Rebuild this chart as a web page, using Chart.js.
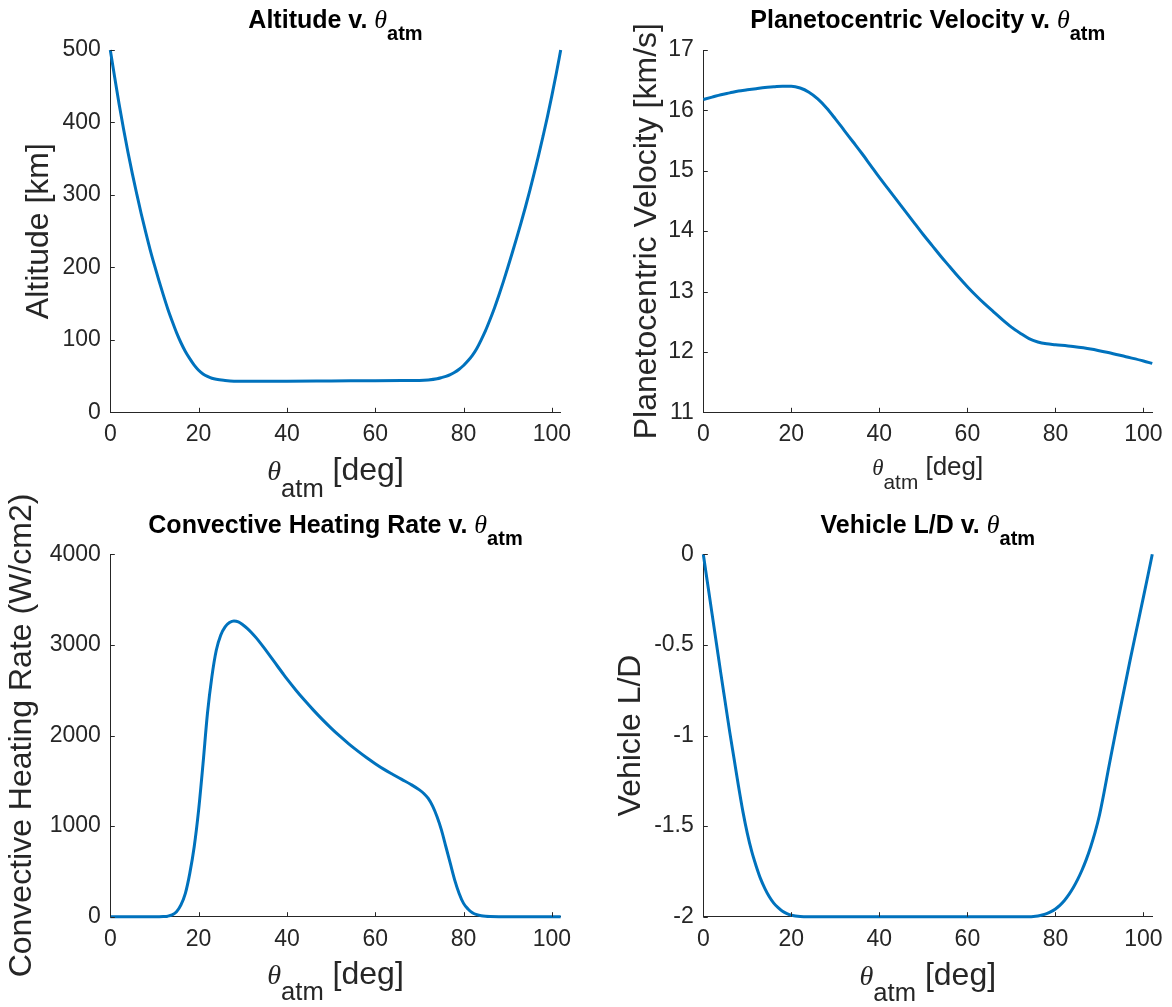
<!DOCTYPE html>
<html>
<head>
<meta charset="utf-8">
<script src="https://cdn.jsdelivr.net/npm/chart.js@4.4.1/dist/chart.umd.min.js"></script>
<style>
  body { margin: 0; background: #fff; width: 1172px; height: 1007px; overflow: hidden; position: relative; }
  canvas { position: absolute; }
</style>
</head>
<body>
<canvas id="alt-chart" width="586" height="504" style="left:0;top:0"></canvas>
<canvas id="vel-chart" width="586" height="504" style="left:586px;top:0"></canvas>
<canvas id="heat-chart" width="586" height="547" style="left:0;top:460px"></canvas>
<canvas id="ld-chart" width="586" height="547" style="left:586px;top:460px"></canvas>
<script>
// shared x axis (theta_atm, deg)
const thetaTicks = [0, 20, 40, 60, 80, 100];
const thetaMax = 102;

// altitude [km]
const altTheta = [0, 1, 2, 3, 4, 5, 6, 7, 8, 9, 10, 11, 12, 13, 14, 15, 16, 17, 18, 19, 20, 21, 22, 23, 24, 26, 28, 30, 40, 50, 60, 66, 70, 72, 74, 75, 76, 77, 78, 79, 80, 81, 82, 83, 84, 85, 86, 87, 88, 89, 90, 91, 92, 93, 94, 95, 96, 97, 98, 99, 100, 101, 102];
const altitude = [500, 462, 425, 391, 359, 329, 301, 274, 249, 225, 203, 182, 162, 143, 126, 110, 96, 84, 74, 65, 58, 53, 49.5, 47, 45.5, 44, 43, 42.8, 42.8, 43.2, 43.6, 43.8, 44, 44.7, 46.3, 47.8, 49.6, 52, 55.3, 59.5, 64.6, 71, 78.5, 88, 100, 113, 128, 144, 161.5, 180, 199.5, 219.5, 240, 261, 283, 306, 330, 355, 381, 408, 437, 467.5, 500];
const altTicks = [0, 100, 200, 300, 400, 500];

// planetocentric velocity [km/s]
const velTheta = [0, 2, 4, 6, 8, 10, 12, 14, 16, 18, 20, 22, 24, 26, 28, 30, 32, 34, 36, 38, 40, 42, 44, 46, 48, 50, 52, 54, 56, 58, 60, 62, 64, 66, 68, 70, 72, 74, 76, 78, 80, 84, 88, 92, 96, 100, 102];
const velocity = [16.18, 16.22, 16.26, 16.29, 16.32, 16.34, 16.36, 16.38, 16.39, 16.40, 16.40, 16.37, 16.30, 16.19, 16.04, 15.86, 15.67, 15.48, 15.29, 15.09, 14.89, 14.70, 14.51, 14.32, 14.13, 13.94, 13.76, 13.58, 13.41, 13.24, 13.08, 12.93, 12.79, 12.66, 12.53, 12.41, 12.31, 12.22, 12.165, 12.135, 12.12, 12.09, 12.05, 11.99, 11.92, 11.85, 11.81];
const velTicks = [11, 12, 13, 14, 15, 16, 17];

// convective heating rate (W/cm2)
const heatTheta = [0, 10, 12, 13, 14, 15, 16, 17, 18, 19, 20, 21, 22, 23, 24, 25, 26, 27, 28, 29, 30, 31, 32, 33, 34, 35, 36, 37, 38, 39, 40, 42, 44, 46, 48, 50, 52, 54, 56, 58, 60, 62, 64, 66, 68, 70, 71, 72, 73, 74, 75, 76, 77, 78, 79, 80, 81, 82, 83, 84, 85, 86, 88, 95, 102];
const heating = [0, 0, 2, 6, 20, 55, 130, 257, 478, 772, 1176, 1690, 2243, 2647, 2941, 3107, 3199, 3246, 3265, 3255, 3223, 3183, 3135, 3080, 3020, 2956, 2890, 2823, 2756, 2690, 2625, 2503, 2388, 2280, 2178, 2082, 1992, 1908, 1830, 1757, 1689, 1626, 1570, 1516, 1462, 1400, 1360, 1305, 1220, 1103, 956, 772, 588, 404, 257, 147, 85, 44, 22, 10, 4, 1.5, 0, 0, 0];
const heatTicks = [0, 1000, 2000, 3000, 4000];

// vehicle L/D
const ldTheta = [0, 1, 2, 3, 4, 5, 6, 7, 8, 9, 10, 11, 12, 13, 14, 15, 16, 17, 18, 19, 20, 22, 24, 50, 74, 75, 76, 77, 78, 79, 80, 81, 82, 83, 84, 85, 86, 87, 88, 89, 90, 91, 92, 93, 94, 95, 96, 97, 98, 99, 100, 101, 102];
const liftDrag = [0, -0.165, -0.33, -0.495, -0.66, -0.82, -0.98, -1.13, -1.28, -1.42, -1.54, -1.64, -1.72, -1.79, -1.845, -1.89, -1.925, -1.95, -1.97, -1.983, -1.992, -1.999, -2, -2, -2, -1.999, -1.996, -1.991, -1.983, -1.972, -1.957, -1.937, -1.912, -1.88, -1.842, -1.797, -1.745, -1.685, -1.615, -1.535, -1.44, -1.32, -1.19, -1.065, -0.94, -0.82, -0.7, -0.58, -0.465, -0.35, -0.235, -0.118, 0];
const ldTicks = [-2, -1.5, -1, -0.5, 0];

const ink = '#262626';
const SANS = '"Liberation Sans", Arial, Helvetica, sans-serif';
const SERIF = '"Liberation Serif", "Times New Roman", serif';
Chart.defaults.font.family = SANS;

// draw a run of text pieces (for the theta_atm subscripts), centred on cx
function drawRun(ctx, parts, cx, y) {
  let total = 0;
  parts.forEach(p => { ctx.font = p.font; p.w = ctx.measureText(p.text).width; total += p.w; });
  let x = cx - total / 2;
  ctx.textAlign = 'left';
  ctx.textBaseline = 'alphabetic';
  parts.forEach(p => {
    ctx.font = p.font;
    ctx.fillText(p.text, x, y + (p.dy || 0));
    x += p.w;
  });
}

const labelsPlugin = {
  id: 'labels',
  afterDraw(chart, args, opts) {
    const ctx = chart.ctx;
    const a = chart.chartArea;
    const cx = (a.left + a.right) / 2;
    const xs = chart.scales.x, ys = chart.scales.y;
    ctx.save();

    // matlab style ticks, pointing inwards
    ctx.strokeStyle = ink;
    ctx.lineWidth = 1;
    ctx.beginPath();
    xs.ticks.forEach(t => {
      const px = Math.round(xs.getPixelForValue(t.value)) + 0.5;
      ctx.moveTo(px, a.bottom);
      ctx.lineTo(px, a.bottom - 4.5);
    });
    ys.ticks.forEach(t => {
      const py = Math.round(ys.getPixelForValue(t.value)) + 0.5;
      ctx.moveTo(a.left, py);
      ctx.lineTo(a.left + 4.5, py);
    });
    ctx.stroke();

    // title
    ctx.fillStyle = '#000';
    drawRun(ctx, [
      { text: opts.title + ' v. ', font: 'bold 25px ' + SANS },
      { text: 'θ', font: 'italic 26px ' + SERIF },
      { text: 'atm', font: 'bold 20px ' + SANS, dy: 12 }
    ], cx, a.top - 21.7);

    // x label
    const s = opts.xSize;
    ctx.fillStyle = ink;
    drawRun(ctx, [
      { text: 'θ', font: 'italic ' + (s * 0.88) + 'px ' + SERIF },
      { text: 'atm', font: (s * 0.8) + 'px ' + SANS, dy: s * 0.52 },
      { text: ' [deg]', font: s + 'px ' + SANS }
    ], cx, a.bottom + opts.xLabelGap);

    // y label
    ctx.translate(opts.yLabelX, (a.top + a.bottom) / 2);
    ctx.rotate(-Math.PI / 2);
    ctx.font = '32px ' + SANS;
    ctx.textAlign = 'center';
    ctx.textBaseline = 'alphabetic';
    ctx.fillText(opts.yLabel, 0, 0);
    ctx.restore();
  }
};

function makeChart(id, xVals, yVals, yTicks, box, annot) {
  const points = xVals.map((x, i) => ({ x: x, y: yVals[i] }));
  return new Chart(document.getElementById(id), {
    type: 'line',
    data: {
      datasets: [{
        data: points,
        borderColor: '#0072BD',
        borderWidth: 3,
        pointRadius: 0,
        fill: false,
        cubicInterpolationMode: 'monotone',
        clip: 4
      }]
    },
    options: {
      responsive: false,
      animation: false,
      devicePixelRatio: 1,
      layout: { padding: { top: box.top, right: box.right, left: 0, bottom: 0 } },
      plugins: {
        legend: { display: false },
        tooltip: { enabled: false },
        labels: annot
      },
      scales: {
        x: {
          type: 'linear',
          min: 0,
          max: thetaMax,
          afterBuildTicks: sc => { sc.ticks = thetaTicks.map(v => ({ value: v })); },
          afterFit: sc => { sc.height = box.xh; },
          grid: { display: false, drawTicks: false },
          border: { display: true, color: ink, width: 1 },
          ticks: { padding: 9, color: ink, font: { size: 23 }, maxRotation: 0, autoSkip: false, callback: v => String(v) }
        },
        y: {
          type: 'linear',
          min: yTicks[0],
          max: yTicks[yTicks.length - 1],
          afterBuildTicks: sc => { sc.ticks = yTicks.map(v => ({ value: v })); },
          afterFit: sc => { sc.width = box.yw; },
          grid: { display: false, drawTicks: false },
          border: { display: true, color: ink, width: 1 },
          ticks: { padding: 9.5, color: ink, font: { size: 23 }, autoSkip: false, callback: v => String(v) }
        }
      }
    },
    plugins: [labelsPlugin]
  });
}

makeChart('alt-chart', altTheta, altitude, altTicks,
  { top: 50, right: 25.3, yw: 110.3, xh: 91.7 },
  { title: 'Altitude', yLabel: 'Altitude [km]', yLabelX: 48, xSize: 32, xLabelGap: 68 });

makeChart('vel-chart', velTheta, velocity, velTicks,
  { top: 50, right: 17.7, yw: 117.3, xh: 91.7 },
  { title: 'Planetocentric Velocity', yLabel: 'Planetocentric Velocity [km/s]', yLabelX: 70, xSize: 26, xLabelGap: 63 });

makeChart('heat-chart', heatTheta, heating, heatTicks,
  { top: 94.3, right: 25.3, yw: 110.3, xh: 90.3 },
  { title: 'Convective Heating Rate', yLabel: 'Convective Heating Rate (W/cm2)', yLabelX: 31, xSize: 32, xLabelGap: 67 });

makeChart('ld-chart', ldTheta, liftDrag, ldTicks,
  { top: 94.3, right: 17.7, yw: 117.3, xh: 90.3 },
  { title: 'Vehicle L/D', yLabel: 'Vehicle L/D', yLabelX: 54, xSize: 32, xLabelGap: 68 });
</script>
</body>
</html>
